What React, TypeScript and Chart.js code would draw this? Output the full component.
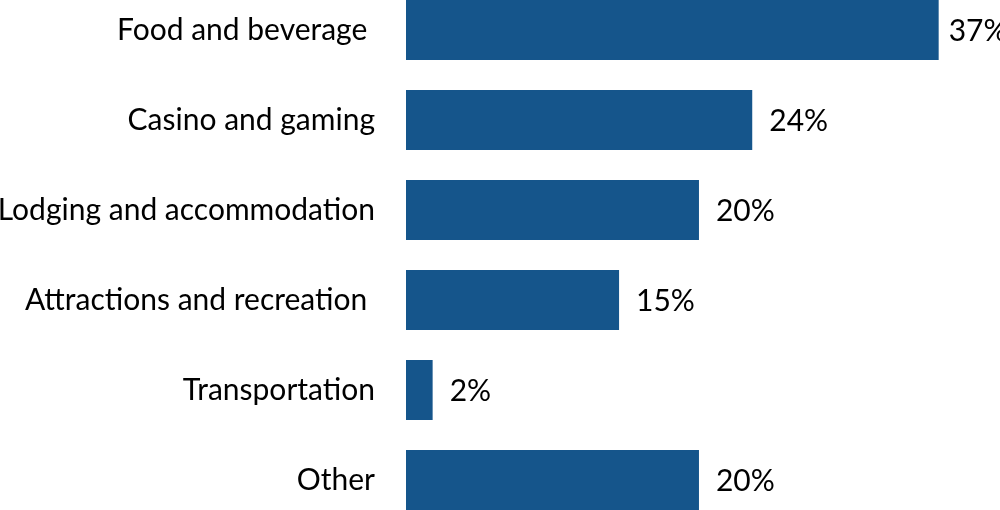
import React, { useEffect, useRef } from "react";
import { Chart, registerables } from "chart.js";

Chart.register(...registerables);

const categories = [
  "Food and beverage ",
  "Casino and gaming",
  "Lodging and accommodation",
  "Attractions and recreation ",
  "Transportation",
  "Other",
];
const shares = [37, 24.05, 20.35, 14.8, 1.85, 20.35];

const BAR_COLOR = "#15558B";
const FONT_FAMILY = "Lato, 'Open Sans', sans-serif";
const FONT_SIZE = 30;

const valueLabels = {
  id: "valueLabels",
  afterDatasetsDraw(chart: any) {
    const ctx = chart.ctx;
    const meta = chart.getDatasetMeta(0);
    ctx.save();
    ctx.font = `${FONT_SIZE}px ${FONT_FAMILY}`;
    ctx.fillStyle = "#000000";
    ctx.textAlign = "left";
    ctx.textBaseline = "middle";
    meta.data.forEach((bar: any, i: number) => {
      const text = Math.round(shares[i]) + "%";
      const w = ctx.measureText(text).width;
      let x = bar.x + 17;
      if (x + w > chart.width + 4) x = Math.max(bar.x + 10, chart.width + 4 - w);
      ctx.fillText(text, x, bar.y + 1);
    });
    ctx.restore();
  },
};

export default function App() {
  const canvasRef = useRef<HTMLCanvasElement | null>(null);

  useEffect(() => {
    document.body.style.margin = "0";
    document.body.style.overflow = "hidden";
    const canvas = canvasRef.current;
    if (!canvas) return;
    const chart = new Chart(canvas, {
      type: "bar",
      data: {
        labels: categories,
        datasets: [
          {
            data: shares,
            backgroundColor: BAR_COLOR,
            borderWidth: 0,
            categoryPercentage: 1,
            barPercentage: 2 / 3,
          },
        ],
      },
      options: {
        indexAxis: "y",
        animation: false,
        responsive: false,
        maintainAspectRatio: false,
        devicePixelRatio: 1,
        layout: { padding: 0 },
        plugins: {
          legend: { display: false },
          tooltip: { enabled: false },
          title: { display: false },
        },
        scales: {
          x: {
            display: false,
            min: 0,
            max: 41.26,
          },
          y: {
            offset: true,
            grid: { display: false, drawTicks: false },
            border: { display: false },
            ticks: {
              color: "#000000",
              padding: 31,
              font: { family: FONT_FAMILY, size: FONT_SIZE },
            },
            afterFit(scale: any) {
              scale.width = 406;
              scale.paddingTop = 0;
              scale.paddingBottom = 0;
            },
          },
        },
      },
      plugins: [valueLabels],
    });
    return () => chart.destroy();
  }, []);

  return (
    <div
      style={{
        position: "fixed",
        left: 0,
        top: -15,
        width: 1000,
        height: 540,
        background: "#ffffff",
      }}
    >
      <canvas ref={canvasRef} width={1000} height={540} style={{ display: "block" }} />
    </div>
  );
}
